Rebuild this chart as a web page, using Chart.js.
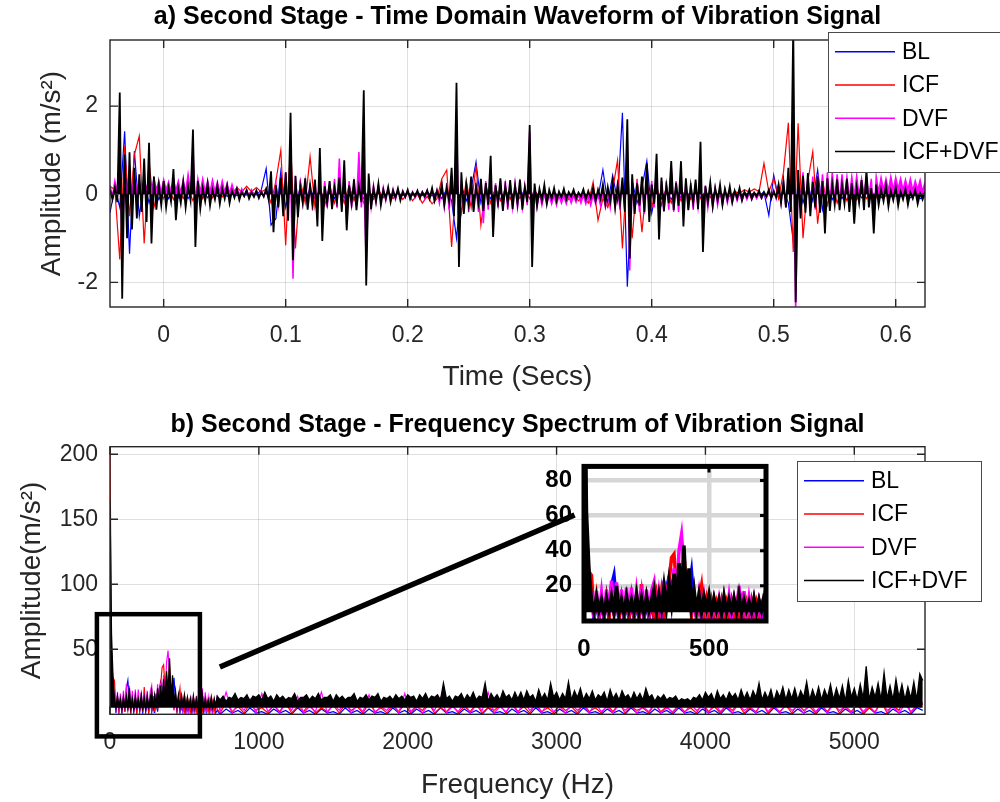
<!DOCTYPE html>
<html><head><meta charset="utf-8">
<script src="https://cdn.jsdelivr.net/npm/chart.js@4.4.0/dist/chart.umd.min.js"></script>
<style>
html,body{margin:0;padding:0;background:#fff;width:1000px;height:802px;overflow:hidden;}
canvas{position:absolute;display:block;}
</style></head><body>
<canvas id="c1" width="1000" height="400" style="left:0;top:0"></canvas>
<canvas id="c2" width="1000" height="402" style="left:0;top:400px"></canvas>
<canvas id="c3" width="250" height="235" style="left:525px;top:440px"></canvas>
<script>
// ---------- DATA ----------
const seriesLabels = ['BL', 'ICF', 'DVF', 'ICF+DVF'];

// time-domain samples (s): grid start and spacing
const timeStart = -0.044, timeStep = 0.004;
const ampBL = [
-0.42,0.15,-0.3,1.43,-1.35,0.98,-0.5,0.3,-0.2,0.15,
-0.12,0.1,-0.1,0.12,-0.08,0.1,-0.1,0.08,-0.06,0.1,
-0.08,0.06,-0.05,0.08,-0.05,0.05,-0.03,0.04,-0.02,0.05,
-0.02,0.1,0.58,-0.7,-0.55,0.52,-0.3,0.25,-0.2,0.15,
-0.12,0.12,-0.1,0.1,-0.12,0.1,-0.1,0.12,-0.08,0.1,
-0.1,0.08,-0.1,0.08,-0.06,0.05,-0.05,0.04,-0.04,0.03,
-0.03,0.03,-0.02,0.04,-0.03,0.05,-0.04,0.06,-0.1,0.12,
-0.15,-1.0,0.2,-0.15,0.12,0.73,-0.2,0.12,-0.1,0.1,
-0.12,0.1,-0.1,0.08,-0.08,0.1,-0.1,0.08,-0.06,0.05,
-0.05,0.04,-0.04,0.03,-0.03,0.03,-0.04,0.04,-0.05,0.06,
-0.08,0.55,-0.2,0.43,-0.15,1.85,-2.1,0.3,-0.2,0.15,
0.75,-0.43,0.12,-0.1,0.1,-0.12,0.1,-0.08,0.1,-0.1,
0.08,-0.08,0.06,-0.06,0.05,-0.05,0.04,-0.04,0.03,-0.03,
0.03,-0.02,0.03,-0.03,0.05,-0.48,0.43,-0.1,0.1,-0.2,
-1.05,0.3,-0.2,0.2,-0.15,0.55,-0.35,0.15,-0.12,0.1,
-0.1,0.08,-0.1,0.08,-0.08,0.06,-0.1,0.05,-0.08,0.04,
-0.06,0.03,-0.06,0.02,-0.08,-0.02,-0.1,-0.05];
const ampICF = [
0.18,0.1,-1.48,1.09,-0.5,0.9,1.32,-1.12,0.73,-0.3,
0.2,-0.1,0.15,-0.12,0.18,-0.1,0.12,-0.15,0.2,-0.1,
0.12,-0.08,0.1,-0.06,0.1,0.02,0.15,0.05,0.18,0.06,
0.15,0.05,0.12,-0.2,0.3,1.0,-1.16,1.15,-1.23,0.3,
-0.2,0.85,-0.3,0.2,-0.25,0.2,-0.2,0.15,-0.2,0.2,
-0.15,0.15,-0.2,0.1,-0.12,0.1,-0.08,0.06,-0.1,0.05,
-0.12,0.02,-0.15,0,-0.2,-0.05,-0.22,-0.1,0.35,0.55,
-1.2,0.4,-0.43,0.3,-0.3,0.66,-0.7,0.2,-0.2,0.15,
-0.15,0.12,-0.12,0.1,-0.1,0.08,-0.1,0.08,-0.06,0.05,
-0.08,0.03,-0.1,0.02,-0.12,0,-0.15,-0.05,-0.2,0.28,
-0.59,-0.1,-0.3,0.1,0.77,-1.23,0.7,-1.0,0.35,-0.86,
0.3,-0.3,0.2,-0.25,0.15,-0.2,0.12,-0.15,0.1,-0.12,
0.08,-0.1,0.06,-0.08,0.05,-0.06,0.04,-0.05,0.06,0.02,
0.1,0.05,0.12,0.06,0.7,0.05,0.36,-0.1,0.5,1.62,
-1.31,1.61,-1.0,0.3,0.96,-0.67,0.3,-0.25,0.2,-0.2,
0.15,-0.15,0.12,-0.12,0.1,-0.1,0.08,-0.08,0.1,-0.05,
0.08,-0.05,0.06,-0.04,0.05,-0.02,0.08,0.12];
// DVF and ICF+DVF: per-sample max and min (dense traces)
const ampDVFHi = [
0.2,0.3,0.4,0.35,0.3,0.38,0.3,0.35,0.32,0.35,
0.3,0.33,0.28,0.35,0.3,0.32,0.45,0.95,0.35,0.35,
0.3,0.32,0.28,0.3,0.25,0.22,0.15,0.12,0.1,0.1,
0.08,0.08,0.12,0.2,0.25,0.3,0.5,0.4,0.4,0.25,
0.3,0.25,0.3,0.3,0.3,0.28,0.35,0.81,0.3,0.3,
0.25,0.96,0.3,0.3,0.2,0.2,0.15,0.12,0.12,0.1,
0.08,0.05,0.06,0.04,0.06,0.06,0.1,0.1,0.2,0.25,
0.3,1.64,0.3,0.3,0.28,0.25,0.3,0.3,0.28,0.25,
0.3,0.3,0.25,0.25,0.22,0.2,1.42,0.15,0.05,0,
-0.02,-0.03,-0.02,-0.04,-0.02,-0.03,-0.01,-0.02,-0.04,-0.02,
0,0.05,0.1,0.15,0.2,0.25,1.15,0.3,0.3,0.3,
0.35,0.3,0.4,0.3,0.3,0.62,0.3,0.3,0.3,0.25,
0.25,0.2,0.2,0.15,0.15,0.1,0.1,0.06,0.05,0.03,
0.02,0.02,0,0.01,0.02,0.04,0.1,0.2,0.3,0.4,
0.9,0.5,0.5,0.4,0.4,0.45,0.45,0.5,0.5,0.45,
0.45,0.4,0.4,0.42,0.35,0.38,0.35,0.4,0.38,0.35,
0.4,0.38,0.36,0.33,0.35,0.3,0.32,0.28];
const ampDVFLo = [
-0.05,0.05,-1.1,0.05,0.08,0.1,0.05,0.12,0.08,0.1,
0.05,0.1,0.05,0.08,0.04,0.06,0.05,-0.2,0.05,0.06,
0.05,0.06,0.04,0.05,0.02,0.03,-0.02,-0.03,-0.05,-0.04,
-0.05,-0.06,-0.1,-0.2,-0.25,-0.3,-0.3,-1.92,-0.35,-0.2,
-0.3,-0.36,-0.3,-0.3,-0.3,-0.25,-0.3,-0.3,-0.7,-0.3,
-0.25,-0.3,-1.58,-0.3,-0.2,-0.18,-0.15,-0.12,-0.12,-0.1,
-0.08,-0.06,-0.08,-0.05,-0.1,-0.08,-0.15,-0.2,-0.3,-0.35,
-0.5,-0.9,-0.4,-0.4,-0.35,-0.4,-0.66,-0.35,-0.4,-0.3,
-0.35,-0.35,-0.3,-0.3,-0.3,-0.25,-0.74,-0.3,-0.25,-0.22,
-0.22,-0.25,-0.2,-0.22,-0.2,-0.18,-0.2,-0.22,-0.25,-0.22,
-0.25,-0.28,-0.3,-0.3,-0.35,-0.4,-1.73,-0.45,-0.4,-0.45,
-0.35,-0.3,-0.5,-0.4,-0.35,-0.4,-0.4,-0.45,-0.35,-0.35,
-0.3,-0.45,-0.3,-0.3,-0.25,-0.25,-0.2,-0.2,-0.15,-0.15,
-0.12,-0.12,-0.1,-0.1,-0.08,-0.08,-0.1,-0.2,-0.3,-0.4,
-2.7,-0.3,-0.3,-0.3,-0.35,-0.2,-0.3,-0.2,-0.15,-0.15,
-0.1,-0.1,-0.05,-0.05,0,-0.05,-0.6,0.05,0.1,0.08,
0.1,0.12,0.1,0.1,0.08,0.1,0.05,0.08];
const ampICFDVFHi = [
0.1,0.15,2.31,0.9,0.95,0.6,0.45,0.81,1.17,0.4,
0.22,0.3,0.15,0.57,0.12,0.28,0.18,1.47,0.3,0.14,
0.24,0.1,0.2,0.13,0.19,0.08,0.12,0.05,0.09,0.04,
0.08,0.05,0.12,0.52,0.2,0.38,0.5,1.85,0.42,0.18,
0.36,0.2,0.33,1.05,0.18,0.3,0.15,0.38,0.77,0.2,
0.34,0.17,2.36,0.47,0.14,0.24,0.1,0.16,0.08,0.13,
0.06,0.1,0.04,0.08,0.05,0.09,0.14,0.08,0.22,0.15,
0.6,2.53,0.5,0.22,0.4,0.18,0.35,0.25,0.87,0.2,
0.36,0.18,0.32,0.2,0.33,0.16,1.57,0.24,0.12,0.21,
0.1,0.14,0.06,0.12,0.05,0.1,0.04,0.11,0.07,0.15,
0.1,0.22,0.16,0.28,0.2,0.38,1.7,0.45,0.25,0.4,
0.7,0.22,0.92,0.38,0.2,0.75,0.26,0.75,0.36,0.2,
0.33,1.19,0.18,0.27,0.14,0.22,0.12,0.18,0.08,0.14,
0.06,0.1,0.04,0.08,0.05,0.1,0.06,0.22,0.28,0.6,
3.8,0.55,0.42,0.48,0.28,0.4,0.3,0.36,0.22,0.34,
0.2,0.35,0.25,0.16,0.32,0.55,0.14,0.22,0.1,0.2,
0.08,0.16,0.06,0.12,0.04,0.1,0.02,0.05];
const ampICFDVFLo = [
-0.12,-0.18,-2.37,-1.0,-0.8,-0.55,-0.4,-0.63,-1.12,-0.35,
-0.25,-0.3,-0.16,-0.59,-0.2,-0.3,-0.14,-1.2,-0.33,-0.16,
-0.26,-0.12,-0.22,-0.1,-0.2,-0.08,-0.13,-0.05,-0.1,-0.06,
-0.09,-0.05,-0.12,-0.86,-0.3,-0.5,-0.6,-1.5,-0.52,-0.2,
-0.35,-0.22,-0.73,-1.06,-0.2,-0.34,-0.18,-0.4,-0.82,-0.22,
-0.36,-0.18,-2.07,-0.34,-0.16,-0.25,-0.1,-0.18,-0.08,-0.14,
-0.06,-0.11,-0.05,-0.09,-0.05,-0.1,-0.15,-0.09,-0.24,-0.16,
-0.5,-1.65,-0.45,-0.24,-0.4,-0.2,-0.38,-0.24,-0.97,-0.2,
-0.38,-0.2,-0.34,-0.22,-0.35,-0.18,-1.65,-0.26,-0.14,-0.22,
-0.1,-0.15,-0.07,-0.12,-0.05,-0.1,-0.05,-0.11,-0.08,-0.15,
-0.1,-0.22,-0.16,-0.3,-0.2,-0.4,-1.46,-0.45,-0.26,-0.4,
-0.63,-0.22,-1.03,-0.38,-0.2,-0.36,-0.26,-0.73,-0.36,-0.2,
-0.34,-1.31,-0.18,-0.28,-0.14,-0.24,-0.12,-0.18,-0.09,-0.14,
-0.06,-0.11,-0.05,-0.08,-0.05,-0.1,-0.07,-0.2,-0.3,-0.4,
-2.45,-0.55,-0.42,-0.5,-0.3,-0.42,-0.89,-0.38,-0.24,-0.36,
-0.22,-0.4,-0.67,-0.2,-0.36,-0.3,-0.89,-0.25,-0.16,-0.28,
-0.14,-0.26,-0.12,-0.24,-0.1,-0.22,-0.12,-0.15];

// spectrum: low band 0..720 Hz every 10 Hz; high band from 740 Hz
const freqLowStart = 0, freqLowStep = 10, freqHighStart = 740;
const freqHighStep = 40;      // BL, ICF, DVF
const freqHighStepFine = 20;  // ICF+DVF
const specLowBL = [
102,30,22,14,1,12,2,11,1,13, 2,20,26,10,1,12,2,11,1,12,
2,10,1,12,2,11,1,12,2,13, 1,14,2,18,25,20,12,22,18,26,
20,12,18,28,10,2,12,1,11,2, 10,1,11,2,10,1,11,2,10,1,
11,2,10,1,11,2,10,1,11,2, 10,1,3];
const specLowICF = [
210,40,28,26,3,14,2,12,3,13, 2,15,4,12,2,13,3,12,2,14,
3,12,2,21,4,13,2,12,3,14, 2,16,4,18,22,36,38,20,30,15,
38,14,20,3,14,2,12,20,3,12, 2,11,3,10,2,11,3,10,2,11,
3,10,2,11,3,10,2,11,3,10, 2,9,4];
const specLowDVF = [
88,45,18,16,2,17,3,16,2,18, 4,23,3,22,5,18,2,19,4,19,
3,17,5,16,2,18,4,17,22,3, 16,5,23,6,24,8,30,10,40,49,
30,10,24,4,16,3,15,2,14,4, 12,2,11,3,12,2,13,3,14,2,
12,4,20,3,17,2,13,3,12,2, 11,4,13];
const specLowICFDVF = [
165,62,29,12,5,14,6,12,4,13, 6,14,5,20,5,12,4,14,6,12,
5,15,5,13,4,14,6,12,18,5, 15,7,20,8,22,10,27,12,33,15,
43,12,30,8,18,6,15,5,14,7, 15,5,13,6,12,4,14,5,12,6,
13,5,15,5,12,6,11,5,13,5, 12,6,14];
const specHighBL = [
0,4,1,3,0,5,1,2,0,4,1,3,0,5,1,3,0,4,1,2,
0,5,1,3,0,4,1,2,0,5,1,3,0,4,1,3,0,5,1,2,
0,4,1,3,0,5,1,2,0,4,1,3,0,5,1,2,0,4,1,3,
0,5,1,2,0,4,1,3,0,5,1,2,0,4,1,3,0,5,1,2,
0,4,1,3,0,5,1,2,0,4,1,3,0,5,1,2,0,4,1,3,
0,5,1,2,0,4,1,3,0,5,1,2,0,4,1,3,0,5,3];
const specHighICF = [
1,9,2,6,1,8,3,5,1,7,2,9,1,6,2,8,1,5,2,7,
1,8,3,6,1,9,2,5,1,7,2,8,1,6,3,9,1,5,2,7,
1,6,2,8,1,5,3,7,1,9,2,6,1,8,2,5,1,7,3,6,
1,8,2,5,1,7,2,9,1,6,3,5,1,8,2,6,1,7,2,5,
1,9,2,6,1,7,3,8,1,5,2,9,1,6,2,7,1,8,3,6,
1,7,2,9,1,6,2,8,1,5,2,10,1,7,3,13,1,6,8];
const specHighDVF = [
2,17,1,8,3,12,1,16,2,7,1,9,3,14,1,6,2,17,1,8,
3,10,1,7,2,15,1,6,3,9,1,16,2,7,1,8,3,13,1,6,
2,9,1,7,3,17,1,6,2,8,1,10,3,7,1,9,2,6,1,8,
3,7,1,9,2,6,1,8,3,7,1,6,2,9,1,5,2,7,1,8,
3,6,1,9,2,7,1,8,3,6,1,10,2,7,1,8,3,6,1,9,
2,7,1,8,3,6,1,9,2,7,1,10,3,6,1,8,2,7,9];
const specHighICFDVF = [
11,14,10,13,12,16,11,13,12,15,10,14,13,15,11,17,12,14,10,15,
12,14,11,13,12,16,10,13,13,15,11,14,12,16,11,13,13,15,10,15,
12,14,11,13,13,16,10,13,12,15,11,14,13,16,10,13,12,14,11,15,
12,14,11,15,13,14,10,15,12,16,11,14,13,15,11,24,12,14,10,14,
13,16,11,15,12,17,11,14,13,24,10,16,12,15,11,18,13,15,11,17,
12,17,11,18,13,15,10,19,12,16,11,24,13,17,11,16,12,25,11,18,
13,20,11,16,12,18,11,15,13,17,10,19,12,16,11,18,13,15,11,17,
12,16,11,20,13,15,10,14,12,15,11,13,12,14,10,12,11,12,10,13,
12,15,11,17,13,16,10,18,12,15,11,17,13,16,11,19,12,17,11,18,
13,24,11,17,12,19,10,18,13,21,11,19,12,20,11,18,13,25,11,19,
12,21,11,19,13,23,11,20,12,22,10,26,13,20,11,23,12,37,11,21,
13,24,11,32,12,22,11,27,13,23,11,21,12,25,11,31,26];

// tick labels
const timeTicks = [0, 0.1, 0.2, 0.3, 0.4, 0.5, 0.6];
const ampTicks = [-2, 0, 2];
const freqTicks = [0, 1000, 2000, 3000, 4000, 5000];
const specTicks = [50, 100, 150, 200];
const insetFreqTicks = [0, 500];
const insetAmpTicks = [20, 40, 60, 80];

// ---------- BUILD ----------
const seriesColors = ['#0000ff', '#ff0000', '#ff00ff', '#000000'];
const FONT = "'Liberation Sans', Arial, Helvetica, sans-serif";
Chart.defaults.font.family = FONT;
Chart.defaults.color = '#262626';
const gridColor = 'rgba(38,38,38,0.15)';

const tAt = i => timeStart + i * timeStep;
const plainPts = ys => ys.map((y, i) => ({x: tAt(i), y: y}));
const envPts = (hi, lo) => hi.flatMap((h, i) => [{x: tAt(i), y: h}, {x: tAt(i) + timeStep / 2, y: lo[i]}]);

const lowPts = ys => ys.map((y, i) => ({x: freqLowStart + i * freqLowStep, y: y}));
const highPts = (ys, step) => ys.map((y, i) => ({x: freqHighStart + i * step, y: y}));
const specPts = [
  lowPts(specLowBL).concat(highPts(specHighBL, freqHighStep)),
  lowPts(specLowICF).concat(highPts(specHighICF, freqHighStep)),
  lowPts(specLowDVF).concat(highPts(specHighDVF, freqHighStep)),
  lowPts(specLowICFDVF).concat(highPts(specHighICFDVF, freqHighStepFine))
];
const timePts = [plainPts(ampBL), plainPts(ampICF), envPts(ampDVFHi, ampDVFLo), envPts(ampICFDVFHi, ampICFDVFLo)];

function makeSets(ptsList, widths, fills) {
  return ptsList.map((pts, k) => ({
    label: seriesLabels[k], data: pts,
    borderColor: seriesColors[k], backgroundColor: seriesColors[k],
    borderWidth: widths[k], pointRadius: 0, tension: 0,
    fill: fills[k], order: 4 - k
  }));
}
function fixedTicks(arr) { return s => { s.ticks = arr.map(v => ({value: v})); }; }

function titlePlugin(text, y) {
  return { id: 'ttl', afterDraw(chart) {
    const {ctx, chartArea: a} = chart; ctx.save();
    ctx.font = 'bold 25px ' + FONT; ctx.fillStyle = '#000';
    ctx.textAlign = 'center'; ctx.textBaseline = 'middle';
    ctx.fillText(text, (a.left + a.right) / 2, y); ctx.restore();
  }};
}
function boxPlugin(tl) {
  return { id: 'box', afterDatasetsDraw(chart) {
    const {ctx, chartArea: a, scales: {x, y}} = chart; ctx.save();
    ctx.strokeStyle = '#262626'; ctx.lineWidth = 1.4;
    ctx.strokeRect(a.left, a.top, a.right - a.left, a.bottom - a.top);
    ctx.beginPath();
    x.ticks.forEach(t => { const p = x.getPixelForValue(t.value);
      ctx.moveTo(p, a.bottom); ctx.lineTo(p, a.bottom - tl);
      ctx.moveTo(p, a.top); ctx.lineTo(p, a.top + tl); });
    y.ticks.forEach(t => { const p = y.getPixelForValue(t.value);
      ctx.moveTo(a.left, p); ctx.lineTo(a.left + tl, p);
      ctx.moveTo(a.right, p); ctx.lineTo(a.right - tl, p); });
    ctx.stroke(); ctx.restore();
  }};
}
function legendPlugin(bx, by, bw, bh) {
  return { id: 'lg', afterDraw(chart) {
    const ctx = chart.ctx; ctx.save();
    ctx.fillStyle = '#fff'; ctx.fillRect(bx, by, bw, bh);
    ctx.strokeStyle = '#4a4a4a'; ctx.lineWidth = 1;
    ctx.strokeRect(bx + 0.5, by + 0.5, bw, bh);
    ctx.font = '23px ' + FONT; ctx.textBaseline = 'middle'; ctx.textAlign = 'left';
    chart.data.datasets.forEach((ds, k) => {
      const yy = by + 19.7 + k * 33.3;
      ctx.strokeStyle = ds.borderColor; ctx.lineWidth = 1.5;
      ctx.beginPath(); ctx.moveTo(bx + 7, yy); ctx.lineTo(bx + 67, yy); ctx.stroke();
      ctx.fillStyle = '#000'; ctx.fillText(ds.label, bx + 74, yy + 1);
    });
    ctx.restore();
  }};
}

const baseOpts = {responsive: false, animation: false, devicePixelRatio: 1,
  plugins: {legend: {display: false}, tooltip: {enabled: false}, title: {display: false}},
  elements: {line: {borderJoinStyle: 'miter'}}};

// ---- chart a ----
new Chart(document.getElementById('c1'), {
  type: 'line',
  data: {datasets: makeSets(timePts, [1.2, 1.2, 1.5, 1.8], [false, false, 'origin', 'origin'])},
  options: Object.assign({}, baseOpts, {
    layout: {padding: {top: 40, right: 75, left: 0, bottom: 0}},
    scales: {
      x: {type: 'linear', min: -0.044, max: 0.624, afterBuildTicks: fixedTicks(timeTicks),
        afterFit: s => { s.height = 93; },
        ticks: {callback: v => String(v), font: {size: 23}, color: '#262626', padding: 15, maxRotation: 0, autoSkip: false},
        grid: {color: gridColor, drawTicks: false}, border: {display: false},
        title: {display: true, text: 'Time (Secs)', font: {size: 28}, color: '#262626', padding: {top: 0, bottom: 6}}},
      y: {type: 'linear', min: -2.56, max: 3.5, afterBuildTicks: fixedTicks(ampTicks),
        afterFit: s => { s.width = 110; },
        ticks: {callback: v => String(v), font: {size: 23}, color: '#262626', padding: 12},
        grid: {color: gridColor, drawTicks: false}, border: {display: false},
        title: {display: true, text: 'Amplitude (m/s²)', font: {size: 28}, color: '#262626', padding: {top: 35, bottom: 0}}}
    }
  }),
  plugins: [titlePlugin('a) Second Stage - Time Domain Waveform of Vibration Signal', 17), boxPlugin(8), legendPlugin(828, 32, 185, 140)]
});

// ---- chart b ----
const specFloor = 5;
const zoomBoxHz = [-88, 604], zoomBoxAmp = [-17, 77];
const connectorHz = [738, 3121], connectorAmp = [36.4, 153.3];
const zoomPlugin = { id: 'zoomMark', afterDraw(chart) {
  const {ctx, scales: {x, y}} = chart; ctx.save();
  ctx.strokeStyle = '#000'; ctx.lineWidth = 4.5;
  const x0 = x.getPixelForValue(zoomBoxHz[0]), x1 = x.getPixelForValue(zoomBoxHz[1]);
  const y0 = y.getPixelForValue(zoomBoxAmp[0]), y1 = y.getPixelForValue(zoomBoxAmp[1]);
  ctx.strokeRect(x0, y1, x1 - x0, y0 - y1);
  ctx.lineWidth = 5.5; ctx.beginPath();
  ctx.moveTo(x.getPixelForValue(connectorHz[0]), y.getPixelForValue(connectorAmp[0]));
  ctx.lineTo(x.getPixelForValue(connectorHz[1]), y.getPixelForValue(connectorAmp[1]));
  ctx.stroke(); ctx.restore();
}};
const specFills = [false, false, false, {value: specFloor}];
new Chart(document.getElementById('c2'), {
  type: 'line',
  data: {datasets: makeSets(specPts, [1.2, 1.2, 1.2, 1.3], specFills)},
  options: Object.assign({}, baseOpts, {
    layout: {padding: {top: 46.7, right: 75, left: 0, bottom: 0}},
    scales: {
      x: {type: 'linear', min: 0, max: 5475, afterBuildTicks: fixedTicks(freqTicks),
        afterFit: s => { s.height = 87.7; },
        ticks: {callback: v => String(v), font: {size: 23}, color: '#262626', padding: 15, maxRotation: 0, autoSkip: false},
        grid: {color: gridColor, drawTicks: false}, border: {display: false},
        title: {display: true, text: 'Frequency (Hz)', font: {size: 28}, color: '#262626', padding: {top: 0, bottom: 0}}},
      y: {type: 'linear', min: 0, max: 205.8, afterBuildTicks: fixedTicks(specTicks),
        afterFit: s => { s.width = 110; },
        ticks: {callback: v => String(v), font: {size: 23}, color: '#262626', padding: 12},
        grid: {color: gridColor, drawTicks: false}, border: {display: false},
        title: {display: true, text: 'Amplitude(m/s²)', font: {size: 28}, color: '#262626', padding: {top: 15, bottom: 0}}}
    }
  }),
  plugins: [titlePlugin('b) Second Stage - Frequency Spectrum of Vibration Signal', 25), boxPlugin(8), legendPlugin(797, 61, 184, 140), zoomPlugin]
});

// ---- inset ----
const insetPlugin = { id: 'inset',
  beforeDraw(chart) { const {ctx, chartArea: a} = chart; ctx.save(); ctx.fillStyle = '#fff';
    ctx.fillRect(a.left, a.top, a.right - a.left, a.bottom - a.top); ctx.restore(); },
  afterDatasetsDraw(chart) {
    const {ctx, chartArea: a, scales: {x, y}} = chart; ctx.save();
    ctx.strokeStyle = '#000'; ctx.lineWidth = 5;
    ctx.strokeRect(a.left, a.top, a.right - a.left, a.bottom - a.top);
    ctx.lineWidth = 3; ctx.beginPath();
    y.ticks.forEach(t => { const p = y.getPixelForValue(t.value); ctx.moveTo(a.right, p); ctx.lineTo(a.right - 6, p); });
    x.ticks.forEach(t => { const p = x.getPixelForValue(t.value); ctx.moveTo(p, a.top); ctx.lineTo(p, a.top + 6); });
    ctx.stroke(); ctx.restore();
  }};
new Chart(document.getElementById('c3'), {
  type: 'line',
  data: {datasets: makeSets(specPts, [3.5, 3.5, 3.5, 3.5], specFills)},
  options: Object.assign({}, baseOpts, {
    layout: {padding: {top: 15, right: 9, left: 0, bottom: 0}},
    scales: {
      x: {type: 'linear', min: 0, max: 728, afterBuildTicks: fixedTicks(insetFreqTicks),
        afterFit: s => { s.height = 54; },
        ticks: {callback: v => String(v), font: {size: 24, weight: 'bold'}, color: '#000', padding: 14, maxRotation: 0, autoSkip: false},
        grid: {color: '#d6d6d6', lineWidth: 4.5, drawTicks: false}, border: {display: false}},
      y: {type: 'linear', min: 0, max: 88, afterBuildTicks: fixedTicks(insetAmpTicks),
        afterFit: s => { s.width = 59; },
        ticks: {callback: v => String(v), font: {size: 24, weight: 'bold'}, color: '#000', padding: 12},
        grid: {color: '#d6d6d6', lineWidth: 4.5, drawTicks: false}, border: {display: false}}
    }
  }),
  plugins: [insetPlugin]
});
</script>
</body></html>
